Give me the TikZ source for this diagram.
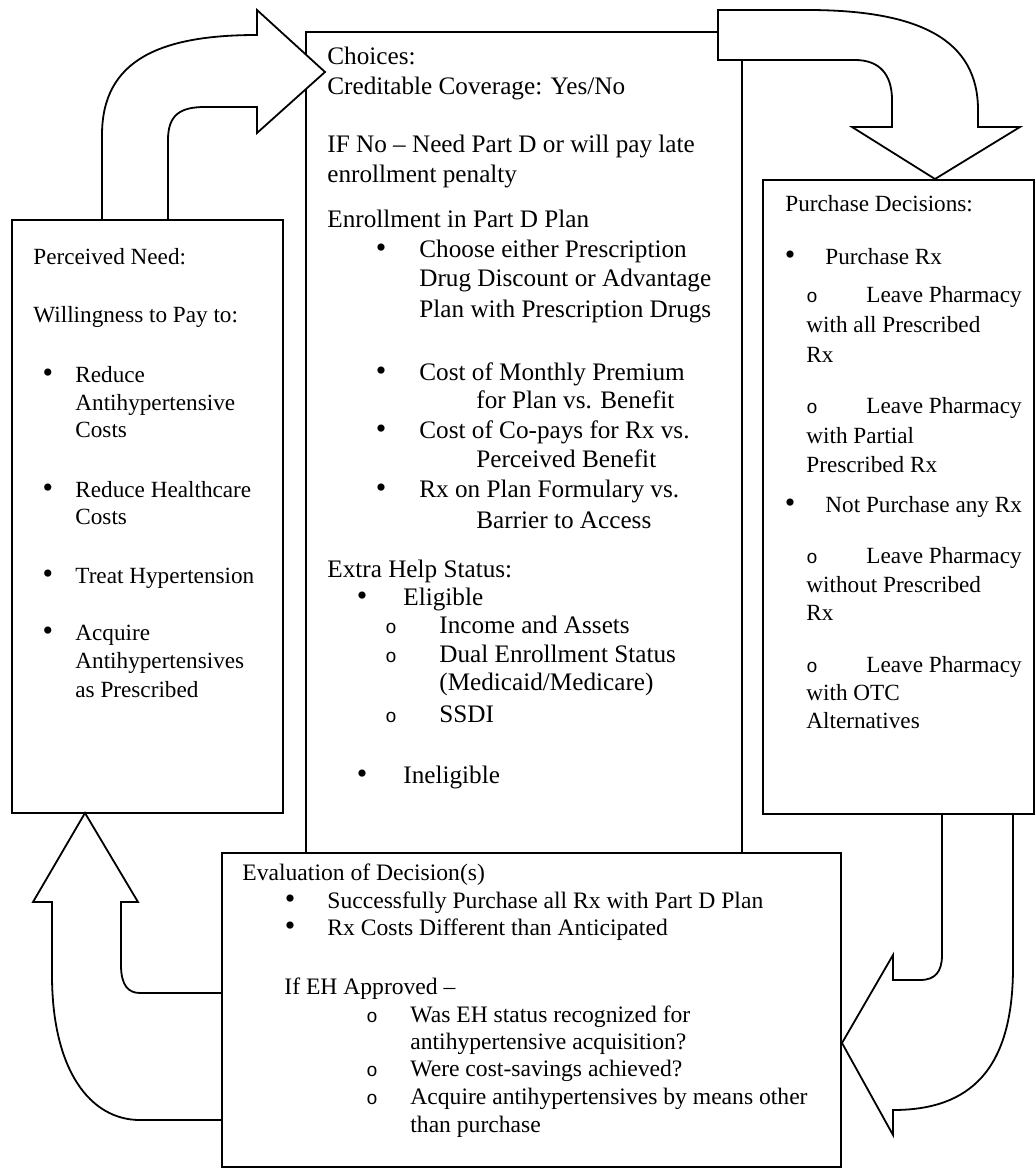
\documentclass[tikz,border=0pt]{standalone}
\usepackage{fontspec}
\setmainfont{Liberation Serif}
\newfontfamily\monof{Liberation Mono}
\begin{document}
\begin{tikzpicture}[x=0.5pt,y=-0.5pt,
  box/.style={draw,line width=0.9pt,fill=white,rectangle,anchor=north west,inner sep=0pt,outer sep=0pt},
  blockarrow/.style={draw,line width=0.9pt,fill=white,line join=miter},
  txt/.style={anchor=base west,inner sep=0pt,font=\fontsize{12.6}{14}\selectfont},
  stxt/.style={anchor=base west,inner sep=0pt,font=\fontsize{11.6}{14}\selectfont},
  etxt/.style={anchor=base west,inner sep=0pt,font=\fontsize{11.8}{14}\selectfont},
  bul/.style={anchor=base,inner sep=0pt,font=\fontsize{15}{16}\selectfont},
  sub/.style={anchor=base,inner sep=0pt,font=\fontsize{9.5}{12}\monof}]
\useasboundingbox (0,0) rectangle (1036,1171);
% boxes
\node[box,minimum width=218pt,minimum height=411.5pt] (choices) at (306,32) {};
\node[box,minimum width=135.5pt,minimum height=296.5pt] (need) at (12,220) {};
\node[box,minimum width=135.5pt,minimum height=317pt] (purchase) at (763,180) {};
\node[box,minimum width=309.5pt,minimum height=157pt] (eval) at (222,853) {};
% block arrows
\draw[blockarrow] (102,220) -- (102,135) .. controls (102,60) and (160,35) .. (257,35)
  -- (257,10) -- (325,72) -- (257,133) -- (257,107) -- (205,107)
  .. controls (180,107) and (168,115) .. (168,140) -- (168,220) -- cycle;
\draw[blockarrow] (718,10) -- (807,10) .. controls (920,10) and (978,40) .. (978,110)
  -- (978,127) -- (1020,127) -- (935,179) -- (852,127) -- (892,127) -- (892,100)
  .. controls (892,75) and (880,60) .. (855,60) -- (718,60) -- cycle;
\draw[blockarrow] (1013,814) -- (1013,967) .. controls (1013,1070) and (970,1110) .. (893,1110)
  -- (893,1135) -- (842,1043) -- (893,955) -- (893,980) -- (920,980)
  .. controls (935,980) and (942,972) .. (942,955) -- (942,814) -- cycle;
\draw[blockarrow] (85,813) -- (138,902) -- (121,902) -- (121,965)
  .. controls (121,985) and (128,993) .. (140,993) -- (222,993) -- (222,1120) -- (140,1120)
  .. controls (90,1120) and (52,1070) .. (52,975) -- (52,902) -- (33,902) -- cycle;
% center box text
\node[txt] (c1) at (327,65) {Choices:};
\node[txt] (c2) at (327,95) {Creditable Coverage: Yes/No};
\node[txt] (c3) at (327,153) {IF No – Need Part D or will pay late};
\node[txt] (c4) at (327,183) {enrollment penalty};
\node[txt] (c5) at (327,228) {Enrollment in Part D Plan};
\node[bul] (cb1) at (381,258) {•};
\node[txt] (c6) at (419,258) {Choose either Prescription};
\node[txt] (c7) at (419,287) {Drug Discount or Advantage};
\node[txt] (c8) at (419,318) {Plan with Prescription Drugs};
\node[bul] (cb2) at (381,380) {•};
\node[txt] (c9) at (419,380) {Cost of Monthly Premium};
\node[txt] (c10) at (476,408) {for Plan vs. Benefit};
\node[bul] (cb3) at (381,438) {•};
\node[txt] (c11) at (419,438) {Cost of Co-pays for Rx vs.};
\node[txt] (c12) at (476,467) {Perceived Benefit};
\node[bul] (cb4) at (381,497) {•};
\node[txt] (c13) at (419,497) {Rx on Plan Formulary vs.};
\node[txt] (c14) at (476,528) {Barrier to Access};
\node[txt] (c15) at (327,577) {Extra Help Status:};
\node[bul] (cb5) at (362,605) {•};
\node[txt] (c16) at (403,605) {Eligible};
\node[sub] (co1) at (391,633) {o};
\node[txt] (c17) at (439,633) {Income and Assets};
\node[sub] (co2) at (391,662) {o};
\node[txt] (c18) at (439,662) {Dual Enrollment Status};
\node[txt] (c19) at (439,690) {(Medicaid/Medicare)};
\node[sub] (co3) at (391,722) {o};
\node[txt] (c20) at (439,722) {SSDI};
\node[bul] (cb6) at (362,783) {•};
\node[txt] (c21) at (403,783) {Ineligible};
% left box text
\node[stxt] (l1) at (33,265) {Perceived Need:};
\node[stxt] (l2) at (33,322) {Willingness to Pay to:};
\node[bul] (lb1) at (48,382) {•};
\node[stxt] (l3) at (75,382) {Reduce};
\node[stxt] (l4) at (75,410) {Antihypertensive};
\node[stxt] (l5) at (75,437) {Costs};
\node[bul] (lb2) at (48,497) {•};
\node[stxt] (l6) at (75,497) {Reduce Healthcare};
\node[stxt] (l7) at (75,524) {Costs};
\node[bul] (lb3) at (48,583) {•};
\node[stxt] (l8) at (75,583) {Treat Hypertension};
\node[bul] (lb4) at (48,640) {•};
\node[stxt] (l9) at (75,640) {Acquire};
\node[stxt] (l10) at (75,668) {Antihypertensives};
\node[stxt] (l11) at (75,697) {as Prescribed};
% right box text
\node[stxt] (r1) at (785,212) {Purchase Decisions:};
\node[bul] (rb1) at (790,265) {•};
\node[stxt] (r2) at (825,265) {Purchase Rx};
\node[sub] (ro1) at (812,303) {o};
\node[stxt] (r3) at (866,303) {Leave Pharmacy};
\node[stxt] (r4) at (806,333) {with all Prescribed};
\node[stxt] (r5) at (806,362) {Rx};
\node[sub] (ro2) at (812,413) {o};
\node[stxt] (r6) at (866,413) {Leave Pharmacy};
\node[stxt] (r7) at (806,443) {with Partial};
\node[stxt] (r8) at (806,472) {Prescribed Rx};
\node[bul] (rb2) at (790,512) {•};
\node[stxt] (r9) at (825,512) {Not Purchase any Rx};
\node[sub] (ro3) at (812,563) {o};
\node[stxt] (r10) at (866,563) {Leave Pharmacy};
\node[stxt] (r11) at (806,592) {without Prescribed};
\node[stxt] (r12) at (806,620) {Rx};
\node[sub] (ro4) at (812,672) {o};
\node[stxt] (r13) at (866,672) {Leave Pharmacy};
\node[stxt] (r14) at (806,700) {with OTC};
\node[stxt] (r15) at (806,728) {Alternatives};
% evaluation box text
\node[etxt] (e1) at (242,880) {Evaluation of Decision(s)};
\node[bul] (eb1) at (290,908) {•};
\node[etxt] (e2) at (327,908) {Successfully Purchase all Rx with Part D Plan};
\node[bul] (eb2) at (290,935) {•};
\node[etxt] (e3) at (327,935) {Rx Costs Different than Anticipated};
\node[etxt] (e4) at (284,994) {If EH Approved –};
\node[sub] (eo1) at (372,1022) {o};
\node[etxt] (e5) at (410,1022) {Was EH status recognized for};
\node[etxt] (e6) at (410,1049) {antihypertensive acquisition?};
\node[sub] (eo2) at (372,1076) {o};
\node[etxt] (e7) at (410,1076) {Were cost-savings achieved?};
\node[sub] (eo3) at (372,1104) {o};
\node[etxt] (e8) at (410,1104) {Acquire antihypertensives by means other};
\node[etxt] (e9) at (410,1132) {than purchase};
\end{tikzpicture}
\end{document}
